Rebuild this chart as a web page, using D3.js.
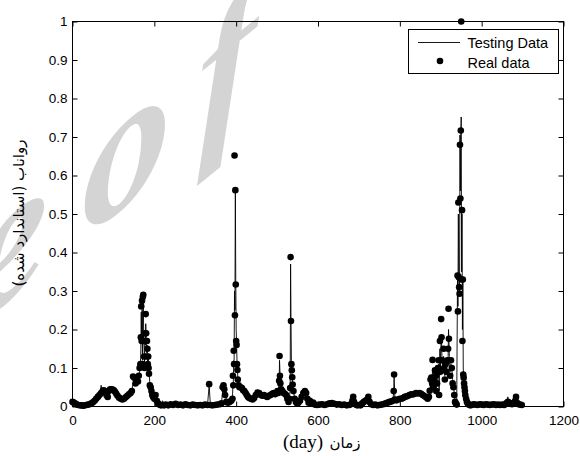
<!DOCTYPE html>
<html><head><meta charset="utf-8">
<script src="https://cdn.jsdelivr.net/npm/d3@7"></script>
<style>body{margin:0;background:#fff}svg{display:block}</style>
</head><body>
<svg id="c" width="580" height="456"></svg>
<script>
const days = [0,3,6,10,14,18,22,26,30,34,38,42,46,50,54,58,62,66,70,73,76,80,83,86,89,92,95,98,101,104,107,110,114,118,122,126,130,134,138,142,145,148,151,154,157,160,162,164,166,167,168,169,170,171,172,173,174,175,176,177,178,179,180,181,182,183,184,185,186,187,189,191,193,195,197,200,203,206,209,212,216,220,224,228,234,240,246,252,258,264,270,276,282,288,294,300,306,312,318,324,330,334,337,342,348,354,360,364,367,369,371,373,376,380,384,388,391,392,393,394,395,396,397,398,399,400,401,402,403,404,406,408,411,414,417,420,423,426,429,432,436,440,444,448,452,456,460,464,468,472,476,480,484,488,492,495,498,501,503,505,506,507,508,510,513,516,519,522,525,528,530,532,533,534,535,536,537,538,540,543,546,549,552,556,560,564,568,571,574,577,580,584,588,592,598,604,610,616,622,628,634,640,646,652,658,664,670,676,680,684,686,688,692,696,700,704,708,712,716,720,723,726,730,735,740,745,750,755,760,765,770,775,779,783,785,786,788,792,796,800,804,808,812,816,820,824,828,832,836,840,844,848,852,856,860,864,868,871,873,875,877,879,880,882,884,886,888,889,891,893,895,896,898,899,901,902,903,905,907,908,910,912,914,916,918,919,920,921,923,925,927,929,931,933,935,937,939,941,942,943,944,945,946,947,948,949,950,951,952,953,954,955,956,957,958,959,960,962,964,966,968,972,976,980,985,990,995,1000,1005,1010,1015,1020,1025,1030,1035,1040,1045,1050,1055,1060,1064,1067,1070,1074,1078,1082,1084,1086,1090,1094,1098];
const realData = [.012,.010,.008,.006,.004,.003,.003,.002,.003,.004,.005,.006,.008,.011,.015,.020,.025,.030,.035,.038,.042,.040,.030,.025,.040,.045,.045,.044,.042,.038,.033,.028,.023,.020,.018,.020,.024,.028,.032,.035,.040,.078,.075,.060,.070,.065,.080,.100,.110,.180,.260,.170,.275,.110,.285,.290,.170,.130,.100,.190,.170,.240,.190,.130,.170,.150,.110,.130,.100,.085,.055,.050,.040,.030,.025,.020,.030,.015,.008,.005,.003,.004,.003,.005,.003,.006,.004,.007,.004,.005,.003,.006,.004,.003,.005,.004,.003,.004,.003,.005,.004,.058,.004,.003,.004,.005,.006,.008,.050,.055,.045,.030,.012,.010,.012,.015,.020,.080,.055,.145,.110,.652,.237,.562,.317,.170,.160,.110,.095,.070,.055,.050,.050,.048,.042,.040,.035,.030,.025,.022,.020,.018,.022,.030,.036,.035,.030,.028,.030,.027,.025,.028,.030,.033,.035,.032,.035,.040,.035,.067,.131,.080,.060,.045,.040,.035,.033,.030,.020,.012,.020,.048,.388,.222,.110,.094,.076,.057,.040,.020,.012,.008,.010,.015,.025,.035,.040,.035,.020,.010,.015,.008,.010,.005,.004,.005,.006,.004,.006,.008,.009,.007,.005,.006,.004,.005,.003,.004,.006,.015,.025,.012,.005,.003,.004,.003,.008,.012,.015,.018,.025,.012,.006,.004,.005,.003,.004,.005,.006,.008,.010,.012,.013,.015,.040,.083,.018,.016,.018,.020,.020,.022,.025,.026,.028,.030,.032,.031,.033,.035,.034,.035,.033,.030,.027,.024,.020,.025,.041,.070,.075,.060,.121,.050,.065,.094,.080,.040,.060,.100,.120,.030,.170,.090,.227,.180,.120,.095,.150,.100,.070,.110,.090,.120,.150,.254,.176,.120,.080,.120,.100,.060,.050,.030,.012,.008,.005,.340,.247,.530,.336,.310,.293,.680,.540,.717,1.000,.330,.510,.170,.330,.083,.075,.060,.050,.040,.030,.020,.012,.008,.005,.003,.004,.006,.005,.004,.006,.005,.004,.006,.005,.004,.005,.006,.004,.005,.004,.005,.004,.008,.012,.010,.008,.006,.008,.015,.025,.010,.006,.005,.004];
const testingData = [.012,.010,.009,.007,.005,.004,.003,.003,.003,.004,.005,.006,.008,.011,.015,.020,.025,.030,.055,.040,.042,.041,.032,.028,.040,.044,.045,.045,.043,.039,.034,.029,.024,.021,.019,.020,.024,.028,.031,.034,.040,.060,.065,.062,.068,.070,.075,.090,.100,.150,.245,.180,.250,.120,.260,.270,.190,.150,.110,.170,.160,.215,.185,.140,.160,.150,.115,.125,.100,.090,.060,.052,.042,.032,.028,.022,.028,.018,.010,.006,.004,.015,.004,.005,.003,.006,.004,.007,.004,.005,.003,.006,.004,.003,.005,.004,.003,.004,.003,.005,.004,.055,.004,.003,.004,.005,.006,.008,.040,.050,.048,.035,.015,.011,.012,.015,.020,.060,.060,.120,.120,.300,.250,.562,.330,.200,.165,.120,.100,.075,.058,.052,.050,.047,.044,.040,.036,.031,.027,.023,.021,.019,.022,.029,.035,.035,.031,.028,.030,.027,.025,.028,.030,.032,.035,.033,.036,.040,.037,.060,.120,.090,.065,.048,.040,.036,.033,.030,.022,.014,.020,.045,.370,.230,.120,.095,.080,.060,.042,.022,.013,.009,.010,.015,.024,.033,.040,.036,.022,.012,.014,.009,.010,.006,.004,.005,.006,.004,.006,.008,.009,.007,.005,.006,.004,.005,.003,.004,.006,.014,.022,.013,.006,.003,.004,.003,.008,.012,.015,.018,.022,.013,.006,.004,.005,.003,.004,.005,.006,.008,.010,.012,.013,.015,.040,.080,.020,.016,.018,.020,.020,.022,.025,.026,.028,.030,.032,.031,.033,.035,.034,.035,.033,.030,.027,.024,.020,.025,.040,.060,.075,.070,.100,.060,.070,.085,.080,.050,.065,.090,.110,.040,.150,.100,.180,.170,.125,.095,.130,.100,.080,.100,.095,.110,.130,.200,.170,.130,.090,.110,.100,.070,.055,.035,.015,.010,.006,.335,.260,.500,.345,.320,.300,.705,.560,.700,.752,.350,.500,.200,.330,.100,.080,.065,.055,.045,.032,.022,.014,.009,.005,.003,.004,.006,.005,.004,.006,.005,.004,.006,.005,.004,.005,.006,.004,.005,.004,.005,.004,.008,.025,.010,.008,.006,.008,.015,.022,.010,.006,.005,.004];
const xTicks = [0,200,400,600,800,1000,1200];
const yTicks = [0,0.1,0.2,0.3,0.4,0.5,0.6,0.7,0.8,0.9,1];
const legendLabels = ["Testing Data","Real data"];
const xLabelLatin = "(day)";
const xLabelPersian = "زمان";
const yLabel = "رواناب (استاندارد شده)";
const watermarkParts = ["Archive","o","f"];

const svg = d3.select("#c");
const L = 72.5, R = 563.5, T = 21.5, B = 406.5;
const x = d3.scaleLinear().domain([0,1200]).range([L,R]);
const y = d3.scaleLinear().domain([0,1]).range([B,T]);

// watermark (background)
const wm = svg.append("g").attr("transform","translate(82,241) skewY(-39)")
  .attr("fill","#d4d4d4").style("font-family","'Liberation Serif','Times New Roman',serif")
  .style("font-style","italic").style("font-weight","bold").style("font-size","178px");
wm.selectAll("text").data(watermarkParts).join("text")
  .attr("x",(d,i)=>[-34,0,115][i]).attr("text-anchor",(d,i)=>i===0?"end":"start").text(d=>d);

// data
const pts = days.map((d,i)=>({d, r: realData[i], t: testingData[i]}));
svg.append("path").datum(pts)
  .attr("fill","none").attr("stroke","#000").attr("stroke-width",0.9)
  .attr("d", d3.line().x(p=>x(p.d)).y(p=>y(p.t)));
svg.append("g").selectAll("circle").data(pts).join("circle")
  .attr("cx",p=>x(p.d)).attr("cy",p=>y(p.r)).attr("r",3.3).attr("fill","#000");

// axes
const font = "'Liberation Sans',Arial,sans-serif";
const ax = (g)=>{ g.select(".domain").remove(); g.selectAll("line").attr("stroke","#000");
  g.selectAll("text").attr("fill","#000").style("font-family",font).style("font-size","13.5px"); };
svg.append("g").attr("transform",`translate(0,${B})`)
  .call(d3.axisBottom(x).tickValues(xTicks).tickSizeInner(-5).tickSizeOuter(0).tickPadding(9).tickFormat(d3.format("d"))).call(ax);
svg.append("g").attr("transform",`translate(${L},0)`)
  .call(d3.axisLeft(y).tickValues(yTicks).tickSizeInner(-5).tickSizeOuter(0).tickPadding(5).tickFormat(d=>String(+d.toFixed(1)))).call(ax);
svg.append("g").attr("transform",`translate(0,${T})`)
  .call(d3.axisTop(x).tickValues(xTicks).tickSizeInner(-5).tickSizeOuter(0).tickFormat("")).call(ax);
svg.append("g").attr("transform",`translate(${R},0)`)
  .call(d3.axisRight(y).tickValues(yTicks).tickSizeInner(-5).tickSizeOuter(0).tickFormat("")).call(ax);
svg.append("rect").attr("x",L).attr("y",T).attr("width",R-L).attr("height",B-T)
  .attr("fill","none").attr("stroke","#000").attr("stroke-width",1);

// legend
const lg = svg.append("g");
lg.append("rect").attr("x",408.5).attr("y",29.5).attr("width",150).attr("height",44)
  .attr("fill","#fff").attr("stroke","#000");
lg.append("line").attr("x1",418).attr("x2",460).attr("y1",42.5).attr("y2",42.5).attr("stroke","#000").attr("stroke-width",0.9);
lg.append("circle").attr("cx",440).attr("cy",61).attr("r",3.3).attr("fill","#000");
lg.selectAll("text.lt").data(legendLabels).join("text").attr("class","lt")
  .attr("x",467.5).attr("y",(d,i)=>[47.5,67.5][i]).text(d=>d)
  .style("font-family",font).style("font-size","14.5px").attr("fill","#000");

// axis labels
svg.append("text").attr("x",303).attr("y",448).attr("text-anchor","middle")
  .style("font-family","'Liberation Serif','Times New Roman',serif").style("font-size","19px").text(xLabelLatin);
svg.append("text").attr("x",345).attr("y",448).attr("text-anchor","middle").attr("direction","rtl")
  .style("font-family","'DejaVu Sans',sans-serif").style("font-size","15px").text(xLabelPersian);
svg.append("text").attr("transform","translate(24,213) rotate(-90)").attr("text-anchor","middle")
  .attr("direction","rtl")
  .style("font-family","'DejaVu Sans',sans-serif").style("font-size","15px").text(yLabel);
</script>
</body></html>
